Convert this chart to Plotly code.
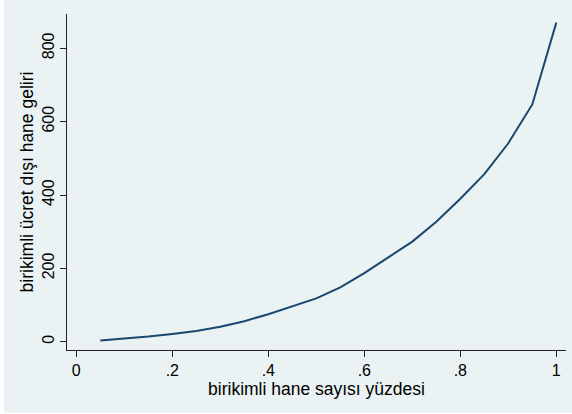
import plotly.graph_objects as go

# Data
x_share = [0.05, 0.10, 0.15, 0.20, 0.25, 0.30, 0.35, 0.40, 0.45, 0.50,
           0.55, 0.60, 0.65, 0.70, 0.75, 0.80, 0.85, 0.90, 0.95, 1.00]
y_income = [3, 8, 14, 21, 29, 41, 56, 75, 97, 118,
            148, 187, 230, 273, 327, 390, 457, 541, 647, 870]

x_tickvals = [0, 0.2, 0.4, 0.6, 0.8, 1]
x_ticktext = ["0", ".2", ".4", ".6", ".8", "1"]
y_tickvals = [0, 200, 400, 600, 800]
y_ticktext = ["0", "200", "400", "600", "800"]

BG = "#EAF2F3"
LINE = "#1A476F"
FONT = "Liberation Sans, Arial, sans-serif"

fig = go.Figure()
fig.add_trace(go.Scatter(x=x_share, y=y_income, mode="lines",
                         line=dict(color=LINE, width=2), showlegend=False,
                         hoverinfo="skip"))

W, H = 572, 414
L, R, T, B = 67, 6, 14, 64
pw, ph = W - L - R, H - T - B

def px2paper_x(px):
    return (px - L) / pw

def px2paper_y(py):
    return (H - B - py) / ph

fig.add_shape(type="rect", xref="paper", yref="paper", layer="below",
              x0=px2paper_x(4), x1=px2paper_x(W + 2),
              y0=px2paper_y(412.7), y1=px2paper_y(-2),
              fillcolor=BG, line=dict(width=0))

fig.update_layout(
    width=W, height=H,
    margin=dict(l=L, r=R, t=T, b=B, autoexpand=False),
    paper_bgcolor="white",
    plot_bgcolor="white",
    font=dict(family=FONT, size=16, color="black"),
    xaxis=dict(
        range=[-0.0194, 1.0202],
        tickvals=x_tickvals, ticktext=x_ticktext,
        ticks="outside", ticklen=6, tickwidth=1, tickcolor="#222",
        showline=True, linecolor="#222", linewidth=1,
        showgrid=False, zeroline=False,
        title=dict(text="birikimli hane sayısı yüzdesi", standoff=1,
                   font=dict(size=17.5)),
        tickfont=dict(size=16),
    ),
    yaxis=dict(
        range=[-22.6, 893.5],
        tickvals=y_tickvals, ticktext=y_ticktext,
        tickangle=-90,
        ticks="outside", ticklen=6, tickwidth=1, tickcolor="#222",
        showline=True, linecolor="#222", linewidth=1,
        showgrid=True, gridcolor=BG, gridwidth=1, zeroline=False,
        title=dict(text="birikimli ücret dışı hane geliri", standoff=1,
                   font=dict(size=17.5)),
        tickfont=dict(size=16),
    ),
)

fig.write_html("out.html",
               config={"displayModeBar": False},
               post_script="document.body.style.margin='0';document.body.style.overflow='hidden';")
